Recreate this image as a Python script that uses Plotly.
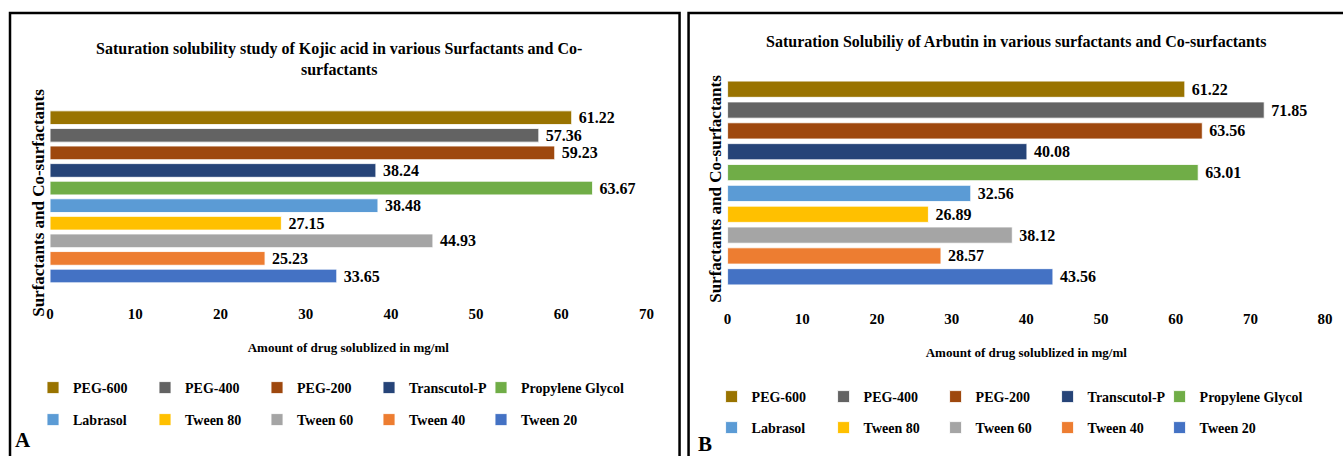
import plotly.graph_objects as go

# ---------------- data ----------------
series = ["Tween 20", "Tween 40", "Tween 60", "Tween 80", "Labrasol",
          "Propylene Glycol", "Transcutol-P", "PEG-200", "PEG-400", "PEG-600"]
colors = ["#4472C4", "#ED7D31", "#A5A5A5", "#FFC000", "#5B9BD5",
          "#70AD47", "#264478", "#9E480E", "#636363", "#997300"]
kojic_acid = [33.65, 25.23, 44.93, 27.15, 38.48, 63.67, 38.24, 59.23, 57.36, 61.22]
arbutin = [43.56, 28.57, 38.12, 26.89, 32.56, 63.01, 40.08, 63.56, 71.85, 61.22]
category = [0]
ticks_a = [0, 10, 20, 30, 40, 50, 60, 70]
ticks_b = [0, 10, 20, 30, 40, 50, 60, 70, 80]

title_a = "Saturation solubility study of Kojic acid in various Surfactants and Co-<br>surfactants"
title_b = "Saturation Solubiliy of Arbutin in various surfactants and Co-surfactants"
x_title = "Amount of drug solublized in mg/ml"
y_title = "Surfactants and Co-surfactants"

# ---------------- layout helpers ----------------
W, H = 1343, 456
FONT = "Liberation Serif, Times New Roman, serif"


def px(x):
    # small horizontal calibration of target pixel -> paper fraction
    return ((x - 3) / 0.991) / W


def py(y):
    return 1 - y / H


fig = go.Figure()

for panel, values, xa, ya, legs in [
    ("A", kojic_acid, "x", "y", ("legend2", "legend")),
    ("B", arbutin, "x2", "y2", ("legend4", "legend3")),
]:
    for i, (name, val, col) in enumerate(zip(series, values, colors)):
        fig.add_trace(go.Bar(
            x=[val], y=category, orientation="h", name=name,
            marker=dict(color=col, line=dict(color="rgba(255,255,255,0.85)", width=1)),
            texttemplate=" %{x:.2f}", textposition="outside", constraintext="none",
            textfont=dict(family=FONT, size=16, color="black", weight="bold"),
            cliponaxis=False, xaxis=xa, yaxis=ya,
            legend=legs[0] if i < 5 else legs[1],
            legendwidth=130 if name == "Propylene Glycol" else None,
            hoverinfo="x+name",
        ))

tickfont = dict(family=FONT, size=15, color="black", weight="bold")
titlefont = dict(family=FONT, size=13, color="black", weight="bold")
ytitlefont = dict(family=FONT, size=17, color="black", weight="bold")

# plot-area geometry (reference pixels)
a_left, a_right, a_top, a_bot = 49, 645, 103, 303
b_left, b_right, b_top, b_bot = 726, 1323, 70, 308

fig.update_layout(
    width=W, height=H,
    margin=dict(l=0, r=0, t=0, b=0),
    paper_bgcolor="white", plot_bgcolor="white",
    barmode="group", bargap=0, bargroupgap=0.22,
    showlegend=True,
    xaxis=dict(domain=[px(a_left), px(a_right)], range=[0, 70], tickvals=ticks_a,
               showgrid=False, zeroline=False, showline=False, ticks="",
               tickfont=tickfont, anchor="y",
               title=dict(text=x_title, font=titlefont, standoff=21)),
    yaxis=dict(domain=[py(a_bot), py(a_top)], range=[-0.6035, 0.5335],
               showgrid=False, zeroline=False, showline=False, showticklabels=False,
               ticks="", anchor="x",
               title=dict(text=y_title, font=ytitlefont, standoff=0)),
    xaxis2=dict(domain=[px(b_left), px(b_right)], range=[0, 80], tickvals=ticks_b,
                showgrid=False, zeroline=False, showline=False, ticks="",
                tickfont=tickfont, anchor="y2",
                title=dict(text=x_title, font=titlefont, standoff=21)),
    yaxis2=dict(domain=[py(b_bot), py(b_top)], range=[-0.5998, 0.5422],
                showgrid=False, zeroline=False, showline=False, showticklabels=False,
                ticks="", anchor="x2",
                title=dict(text=y_title, font=ytitlefont, standoff=0)),
)

legfont = dict(family=FONT, size=14, color="black", weight="bold")
common_leg = dict(orientation="h", traceorder="reversed", font=legfont,
                  bgcolor="rgba(0,0,0,0)", entrywidth=67, entrywidthmode="pixels",
                  xanchor="left", yanchor="middle", itemclick=False, itemdoubleclick=False)
fig.update_layout(
    legend=dict(x=px(32), y=py(388), **common_leg),
    legend2=dict(x=px(32), y=py(420), **common_leg),
    legend3=dict(x=px(710), y=py(397), **common_leg),
    legend4=dict(x=px(710), y=py(428), **common_leg),
)

# panel frames
for x0, x1 in [(9, 678), (687, 1370)]:
    fig.add_shape(type="rect", xref="paper", yref="paper",
                  x0=px(x0), x1=px(x1), y0=py(480), y1=py(13),
                  line=dict(color="black", width=2.5), fillcolor="rgba(0,0,0,0)")

# chart titles and panel letters
fig.add_annotation(text=title_a, xref="paper", yref="paper", x=px(338), y=py(59),
                   showarrow=False, font=dict(family=FONT, size=16, color="black", weight="bold"),
                   align="center", xanchor="center", yanchor="middle")
fig.add_annotation(text=title_b, xref="paper", yref="paper", x=px(1015), y=py(42),
                   showarrow=False, font=dict(family=FONT, size=16, color="black", weight="bold"),
                   xanchor="center", yanchor="middle")
fig.add_annotation(text="A", xref="paper", yref="paper", x=px(22), y=py(440),
                   showarrow=False, font=dict(family=FONT, size=21, color="black", weight="bold"),
                   xanchor="center", yanchor="middle")
fig.add_annotation(text="B", xref="paper", yref="paper", x=px(703), y=py(444),
                   showarrow=False, font=dict(family=FONT, size=21, color="black", weight="bold"),
                   xanchor="center", yanchor="middle")

# remove the default page margin so the figure sits exactly in the window
fig.write_html(
    "out.html",
    config={"displayModeBar": False},
    post_script="document.body.style.margin='0px';document.body.style.overflow='hidden';",
)
